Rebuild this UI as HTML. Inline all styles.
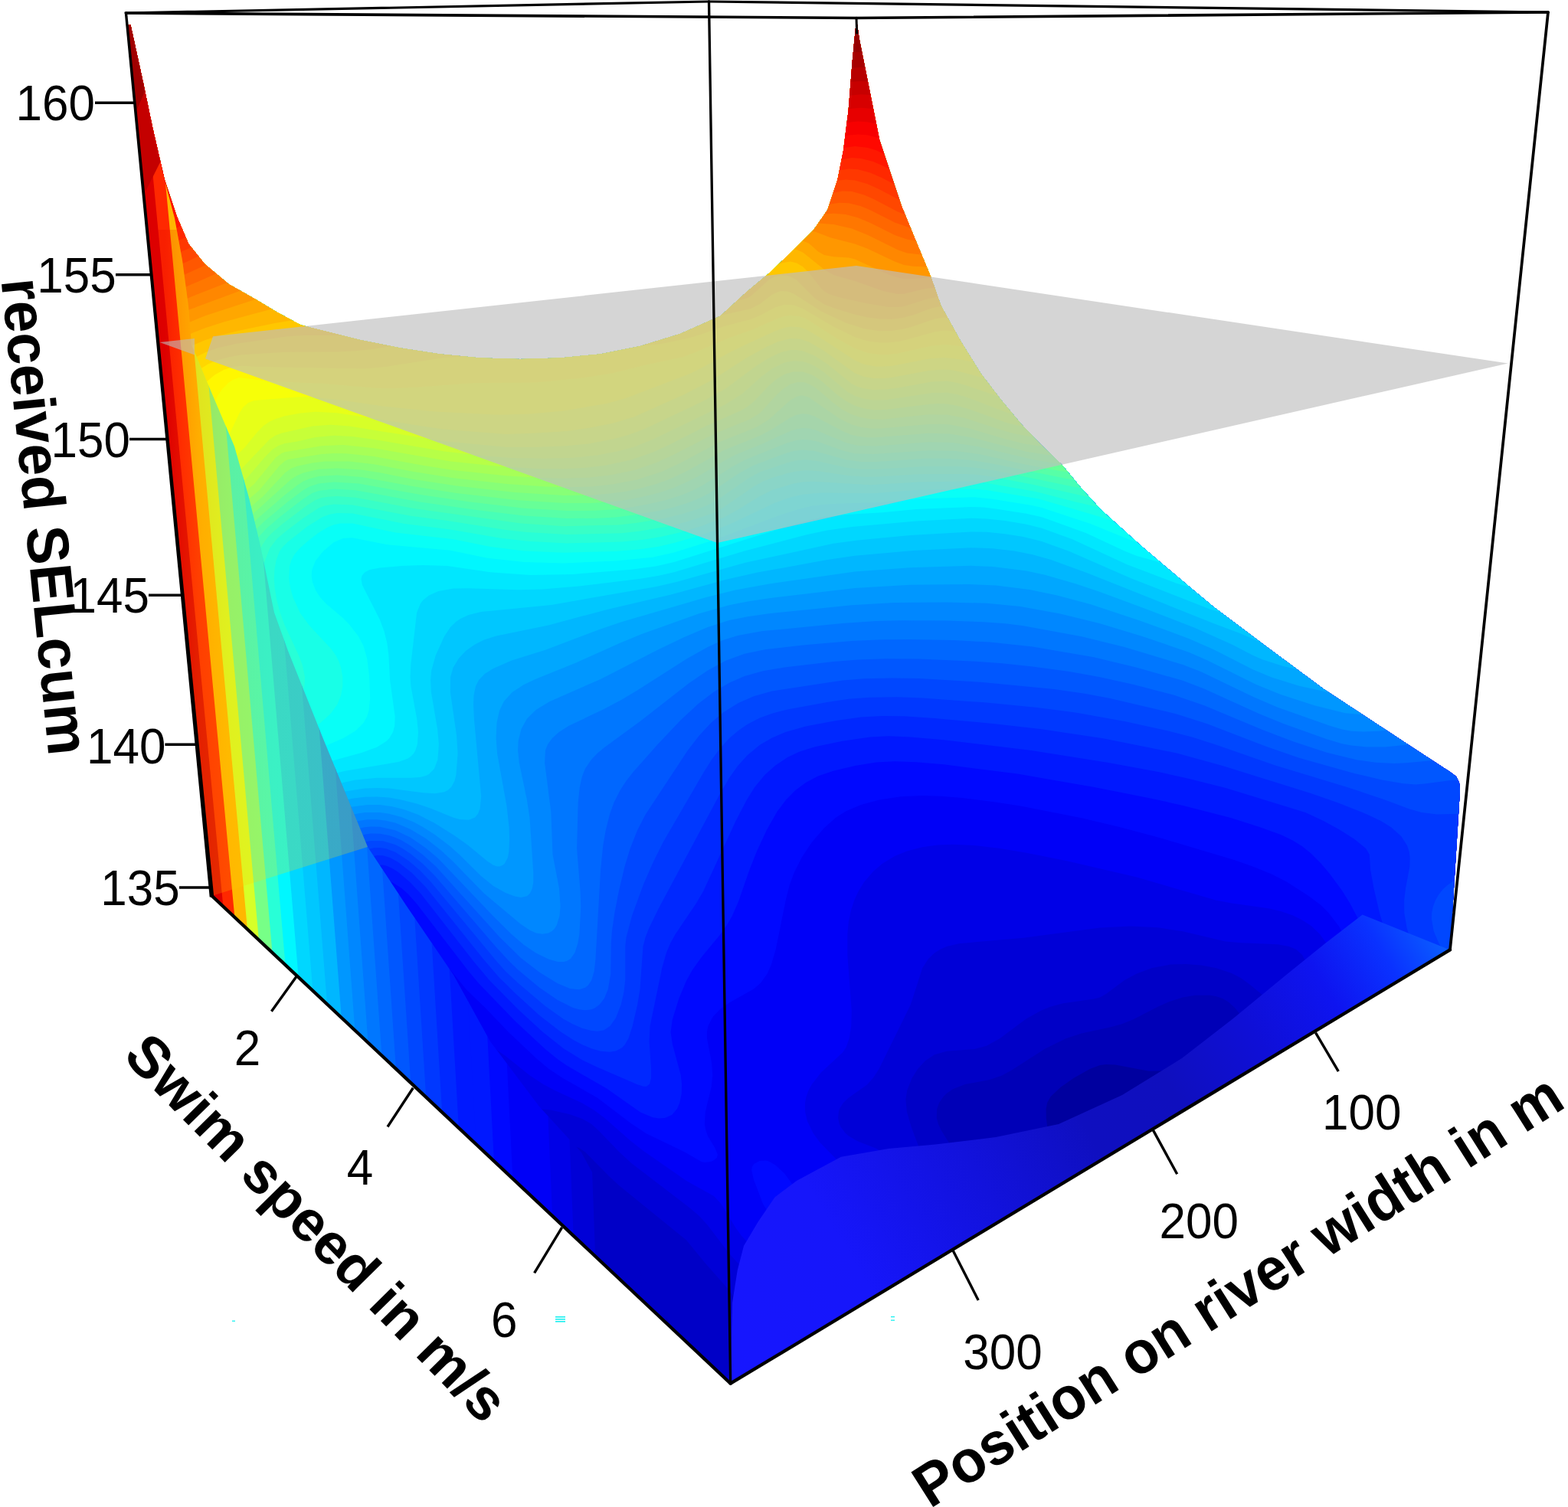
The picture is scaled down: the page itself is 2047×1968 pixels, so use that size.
<!DOCTYPE html>
<html lang="en"><head><meta charset="utf-8"><title>Received SELcum surface</title>
<style>html,body{margin:0;padding:0;background:#fff}body{width:2047px;height:1968px;overflow:hidden}svg{display:block}text{font-family:"Liberation Sans",sans-serif;fill:#000}.tk{font-size:62px}.ax{font-weight:bold;font-size:75px}</style></head><body>
<svg width="2047" height="1968" viewBox="0 0 2047 1968">
<defs><clipPath id="sil"><path d="M170.5,32.7 186.2,104.5 199.3,167.2 214.9,235.1 230.6,282.1 246.3,318.7 267.2,344.8 298.5,371 335.1,391.8 361.2,407.5 392.6,424.5 470,444 522.5,454.5 574.7,462.4 627,467.6 679,469 731.5,467.6 783.7,462.4 836,452 888,436 940.4,412.7 975,381 1004.5,356.6 1035.8,326.5 1062,300.4 1080.3,274.3 1093.3,235.1 1101.1,196 1107.7,143.7 1112.9,78.4 1118.1,24.8 1122,52.2 1129.9,91.4 1137.7,130.6 1148.2,182.9 1161.2,222 1176.9,269 1195.2,313.5 1214.8,360.5 1228.4,399.3 1254.5,446.3 1280.6,488.1 1306.7,522 1332.9,553.4 1359,580.8 1386.4,607 1411.2,637 1437.4,665.7 1463.5,689.2 1489.6,712.7 1515.7,735 1541.8,757.1 1583.6,791.9 1650,842 1728.3,900 1780,934 1850,980 1893,1008 1901,1014 1905,1022 1906,1032 1893,1240.4 953.7,1806.7 276.7,1170 166.5,33Z"/></clipPath><linearGradient id="cg" gradientUnits="userSpaceOnUse" x1="953.7" y1="1806.7" x2="1893.0" y2="1240.4"><stop offset="0" stop-color="#1616ff"/><stop offset="0.2" stop-color="#1616fa"/><stop offset="0.38" stop-color="#1212dc"/><stop offset="0.52" stop-color="#0f0fc0"/><stop offset="0.63" stop-color="#0f0fbe"/><stop offset="0.75" stop-color="#0f0fd7"/><stop offset="0.85" stop-color="#0e14f0"/><stop offset="0.93" stop-color="#0a32ff"/><stop offset="1" stop-color="#0a5fff"/></linearGradient><linearGradient id="bw" gradientUnits="userSpaceOnUse" x1="215" y1="0" x2="420" y2="0"><stop offset="0" stop-color="#e10000"/><stop offset="0.1" stop-color="#ff3c00"/><stop offset="0.22" stop-color="#ff8c00"/><stop offset="0.4" stop-color="#ffbe00"/><stop offset="0.7" stop-color="#ffdc00"/><stop offset="1" stop-color="#fae60a"/></linearGradient><clipPath id="cz"><polygon points="170.5,32.7 186.2,104.5 199.3,167.2 214.9,235.1 228.0,285.0 238.0,340.0 246.0,400.0 250.0,450.0 275.0,510.0 306.0,583.0 325.0,650.0 340.0,713.0 358.0,800.0 376.0,850.0 422.0,965.0 480.0,1106.0 530.0,1182.0 592.0,1273.0 640.0,1360.0 704.0,1445.0 759.0,1505.0 789.0,1560.0 820.0,1635.0 852.0,1690.0 880.0,1738.0 953.7,1809.7 273.7,1173.0 161.4,17.0"/></clipPath></defs>
<rect width="2047" height="1968" fill="#fff"/>
<g clip-path="url(#sil)"><rect width="2047" height="1968" fill="#00009f"/>
<path fill="#0000b7" d="M-8,-8 2056,-8 2056,1976 -8,1976ZM1436,1390.9 1422.7,1396 1401.5,1408 1384.4,1420 1371.7,1432 1367.2,1440 1365.6,1448 1365.8,1460 1367.3,1472 1371.8,1488 1378.2,1500 1388,1511.2 1399.8,1520 1412,1526.1 1428,1530.9 1444,1532.5 1460,1531.1 1480,1525.3 1496,1517.1 1513.2,1504 1527.7,1488 1538.1,1472 1547,1452 1551.6,1432 1552,1424 1551.2,1416 1548.4,1408 1545.3,1404 1540,1400.4 1536,1399.1 1528,1398.3 1500,1398.7 1456,1390.5 1444,1389.9Z"/>
<path fill="#0000c7" d="M-8,-8 2056,-8 2056,1976 -8,1976ZM1560,1299.7 1544,1302.5 1526.7,1308 1512,1314.5 1480,1331 1464,1337.4 1448,1341.8 1412,1349.6 1392,1356.1 1364,1369.8 1320,1398.1 1308,1404.6 1292,1410 1260,1416.1 1244,1422.2 1236,1427.8 1231.7,1432 1226.2,1440 1223.2,1448 1222.8,1460 1225,1468 1228.7,1476 1240,1494.2 1256,1514.8 1276,1536.9 1296,1556.9 1316,1575.2 1336,1591.1 1355.3,1604 1372,1613.1 1388,1620 1408,1626.2 1428,1629.7 1444,1630.6 1464,1629.2 1480,1626 1498.4,1620 1516,1611.8 1540,1596.2 1559,1580 1577.7,1560 1596,1536 1613.3,1508 1628,1477.9 1638.8,1448 1644.1,1424 1645.9,1400 1643.4,1376 1640.3,1364 1635.8,1352 1624.8,1332 1612,1316 1604,1308.8 1596.2,1304 1588,1301.2 1580,1299.8Z"/>
<path fill="#0000d7" d="M-8,-8 2056,-8 2056,1976 -8,1976ZM736,1499.4 732,1503.5 729.9,1508 728.4,1520 730.9,1536 737.3,1556 752,1590 790.2,1668 816,1726.8 825.2,1744 836,1760 850.1,1776 864,1787.8 880,1797.4 896,1803.4 912,1806.1 928,1805.3 944,1800.6 956,1793.4 965.1,1784 971.7,1772 975,1760 975.8,1744 973.3,1728 967.9,1712 962,1700 952,1685 919.3,1648 896,1619.4 808,1547.9 795,1536 764,1504.4 756,1499 748,1496.5 740,1497.3ZM1528,1259.6 1504.3,1264 1484,1271.4 1468,1280.1 1444,1298 1436,1302.5 1428,1304.5 1388,1310.3 1372,1314.6 1360,1319.3 1340,1330.3 1305.5,1356 1288,1365.8 1272,1370 1236,1372.7 1220,1377.2 1208,1385.2 1198.1,1396 1190.5,1408 1184.2,1424 1182.4,1436 1183.9,1452 1189.8,1472 1201.8,1504 1212,1525.7 1224,1547.2 1240,1572.5 1260,1600.8 1276,1621.2 1292,1639.6 1308,1655.8 1324,1669.5 1340,1681.2 1360,1693.3 1380,1702.8 1400,1709.9 1424,1715.1 1444,1716.7 1464,1715.8 1484,1712.3 1504,1706.2 1524,1697.1 1544,1685.1 1564,1669.6 1584,1650.5 1600,1632.2 1616,1611 1633.4,1584 1649,1556 1664,1524.6 1675.5,1496 1684.6,1468 1690.4,1444 1693.6,1424 1694.6,1408 1693.9,1388 1690.9,1368 1685.1,1348 1677.7,1332 1669.7,1320 1658.6,1308 1632,1285.9 1620,1277.2 1608,1270.9 1588,1264.3 1568,1260.5 1548,1258.9Z"/>
<path fill="#0000e7" d="M-8,-8 2056,-8 2056,1976 -8,1976ZM700,1447.8 692,1448.9 684,1452.9 678.8,1460 676.4,1468 675.7,1480 676.6,1492 679.5,1508 684,1525.1 692,1549.9 704,1581.5 734.1,1652 764,1725.4 782.6,1764 792,1780.1 802.7,1796 824,1821.7 836,1833.3 848,1843.2 872,1858.6 896,1868.5 908,1871.6 924,1873.9 936,1874.1 948,1873.1 960,1870.8 972,1867.2 984,1861.8 992,1856.9 1006.3,1844 1017.1,1828 1024.8,1808 1027.3,1796 1028.5,1784 1027.9,1760 1023.9,1740 1020,1728 1014.6,1716 1002.7,1696 987,1676 952,1636.9 924,1600.2 912.9,1588 900,1577 824,1518.8 808,1504.1 781.1,1476 772.2,1468 760,1460.9 744,1455.2 720,1449.7ZM1436,1211.6 1336,1224.8 1252,1232.2 1236,1236.1 1228,1239.6 1220,1244.6 1212,1252.1 1204.3,1264 1188.8,1312 1147.5,1396 1140,1407.4 1132,1416.4 1108,1433.4 1101,1440 1096,1448.1 1094.8,1452 1094.1,1460 1095.8,1468 1097.7,1472 1103.9,1480 1108,1483.5 1120,1490.6 1144.5,1500 1150.1,1504 1156,1510.6 1168,1532.1 1212,1624.1 1233.8,1664 1248,1686.5 1264,1708.9 1280,1728.5 1296,1745.6 1312,1760.6 1332,1776.5 1348,1787.2 1368,1798.1 1388,1806.5 1408,1812.3 1428,1815.7 1448,1816.7 1472,1814.6 1496,1808.9 1520,1799.4 1544,1785.7 1568,1767.5 1588,1748.5 1608,1725.5 1628,1698.1 1651.3,1660 1671.8,1620 1692,1573.9 1707.7,1532 1720.2,1492 1728.7,1456 1733.4,1424 1734.5,1392 1733.3,1372 1730.7,1352 1726.7,1332 1720,1305.7 1710.3,1272 1704.8,1256 1700,1247.1 1692,1239.7 1682.8,1236 1668,1233.3 1620,1231.3 1600,1229.4 1544,1216.3 1512,1211.3 1476,1209.4Z"/>
<path fill="#0000f7" d="M-8,-8 2056,-8 2056,1976 1463.8,1976 1492,1966.1 1520,1950.9 1548,1930.2 1576,1903.2 1604,1869.4 1628,1834 1652,1791.7 1672,1750.3 1697.6,1688 1724,1612.4 1746.9,1536 1761.3,1476 1768.1,1432 1770,1408 1770.3,1388 1767.8,1352 1764.5,1332 1759.9,1312 1744.3,1260 1737.9,1244 1731.7,1232 1723.1,1220 1712,1209.3 1700,1201.4 1688,1195.6 1672,1190.1 1656,1186.2 1608,1179.6 1588,1175.8 1484,1145.5 1391.5,1124 1340,1113.7 1304,1107.7 1272,1104 1244,1102.8 1224,1103.5 1204,1106.2 1184,1111.4 1168,1118 1152,1127.7 1140,1137.9 1128,1152 1120.6,1164 1115.1,1176 1111.2,1188 1107.8,1204 1106.3,1220 1106.4,1248 1111.8,1320 1111.2,1340 1108.7,1356 1104.4,1368 1100,1374.5 1072,1400.6 1059.9,1416 1055.5,1424 1052.6,1432 1051,1440 1051.1,1452 1053.9,1464 1061.7,1480 1070.5,1492 1093.9,1516 1107,1532 1119.9,1552 1129.4,1572 1137.9,1596 1144.2,1620 1148.9,1644 1158.5,1704 1166.2,1736 1177.9,1772 1193.6,1816 1204,1840 1215.1,1860 1229.2,1880 1244,1897.2 1263.5,1916 1284,1932.4 1304,1945.9 1328,1959.1 1352,1969.3 1373.9,1976 -8,1976ZM620,1358.3 616,1362.4 615,1372 617.1,1388 623.6,1416 645.5,1496 680,1598.3 724.3,1720 744,1768 756,1792.6 769.1,1816 784,1838.8 800,1859.9 816,1878 832,1893.9 848,1907.7 868,1922.5 888,1935.1 908,1945.5 928,1954.1 948,1960.9 968,1965.8 988,1968.9 1008,1970 1028,1968.9 1048,1965.2 1063.8,1960 1080,1952.1 1092,1943.9 1101,1936 1108.3,1928 1114.2,1920 1120.9,1908 1125.6,1896 1128.5,1884 1129.8,1872 1129.5,1860 1125.3,1836 1106.9,1784 1098.2,1744 1089.2,1724 1077.8,1708 1066.8,1696 1049.1,1680 992,1636.5 976,1622.5 968,1613.8 960.8,1604 941.3,1572 932,1562 896,1542 840,1502.9 824,1490.6 789.3,1460 776,1449.9 760,1440.6 724.3,1424 709.3,1416 691.1,1404 660,1379.1 644,1367.9 628,1359.2 624,1358.1Z"/>
<path fill="#0008ff" d="M-8,-8 2056,-8 2056,1976 1692.7,1976 1700.1,1928 1712.6,1864 1790.7,1504 1798.8,1456 1803.1,1412 1803.7,1384 1802.3,1360 1798.5,1336 1793.2,1316 1778.7,1276 1760.3,1232 1748,1209.7 1734.4,1192 1724,1181.8 1708,1169.7 1680,1151.8 1660,1141.6 1636,1131.7 1612,1123.2 1512,1093.4 1461.4,1080 1412,1068.2 1332,1052.5 1296,1046.9 1256,1042 1228,1039.7 1204,1039 1176,1040.3 1148,1044.6 1124,1050.9 1104,1059.6 1090.8,1068 1076,1081.2 1059.8,1100 1046.5,1120 1036.5,1140 1030.7,1156 1025.7,1176 1012.7,1240 1006.8,1260 1001.5,1272 992.7,1284 984,1291.5 952,1309.5 940,1317.9 930.5,1328 924.4,1340 922.9,1348 923,1356 929.1,1388 930.3,1404 928.6,1420 920.8,1452 919.9,1468 921.4,1476 924,1483.4 933.9,1500 936.9,1508 935.8,1512 930.8,1516 928,1516.9 920,1518 916,1517.3 892,1503.4 844,1480.5 824,1467.3 780,1433.7 734.8,1408 716,1395.4 700,1382 664,1347.9 633.4,1316 608.5,1292 573,1248 552,1219.8 532,1198.3 524,1191.8 516,1189.2 512,1190.6 508.6,1196 507.6,1204 508.2,1212 513.5,1232 524,1257.4 559.1,1332 577.1,1376 593.8,1420 638.6,1548 696,1729.4 708,1762.9 720,1792.7 732,1819 744,1842.4 756.4,1864 772,1888.4 788,1910.7 808,1935.5 828,1957.8 845.9,1976 -8,1976ZM991.7,1516 1000,1515.6 1004,1516.7 1012,1521.2 1024,1532.3 1035.5,1548 1041,1560 1042.9,1572 1042.5,1576 1040,1582.4 1034.1,1588 1024,1590.4 1012,1588.1 1004,1583 1000,1578.6 996,1572.3 983.8,1540 981.2,1528 981.8,1524 984.3,1520Z"/>
<path fill="#0018ff" d="M-8,-8 2056,-8 2056,1976 1815.8,1976 1805.2,1932 1797.8,1880 1794.5,1824 1794.6,1764 1797.7,1704 1803.9,1640 1811.1,1588 1827.5,1488 1833.1,1444 1835.9,1396 1835.6,1376 1834.1,1356 1830.7,1336 1824.6,1316 1795.1,1252 1772,1198 1762.5,1180 1752,1163.1 1736,1141.3 1724,1127 1712,1115 1700,1105.3 1688,1097.7 1672,1090.1 1644.2,1080 1606.6,1068 1544.4,1052 1504,1042.9 1428.5,1028 1328,1010.6 1232,998.3 1196,995.3 1168,994.2 1144,995.6 1116.3,1000 1088,1006.7 1068,1013.5 1052,1021.9 1038.5,1032 1026.5,1044 1014.5,1060 1000.9,1084 988,1111.8 978.4,1136 964,1177.6 955.9,1196 949,1208 940.6,1220 916,1249.7 904,1266.5 896,1280.9 886.3,1304 877.7,1332 875.6,1348 878,1364 888.8,1404 890.1,1416 889.8,1428 887.4,1440 884,1448 877.1,1456 868,1460.1 860,1460.6 852,1459.2 836,1452.4 792,1421.6 740,1391.6 728,1383.2 712,1370.3 672,1332.9 624.8,1284 611.4,1268 544,1180.2 533.2,1168 524,1159.8 512,1152.2 504,1149.8 500,1149.8 496,1150.9 492,1153.3 488,1157.5 484,1164.7 481.1,1176 480.7,1192 483,1208 488,1226.1 500,1256.2 530.7,1320 546.7,1356 565.9,1404 582,1448 617.9,1552 664,1717.3 676,1756.4 689.7,1796 709.1,1844 732,1891 756,1932.9 784.4,1976 -8,1976Z"/>
<path fill="#0028ff" d="M-8,-8 2056,-8 2056,1976 1942.7,1976 1921.6,1948 1902.5,1916 1885.8,1880 1872.9,1844 1862.1,1804 1853.8,1760 1848.5,1716 1846.1,1668 1846.4,1632 1848.9,1592 1862.8,1480 1866.7,1436 1867.8,1392 1865.5,1356 1862.1,1336 1856.1,1316 1848.6,1300 1820.3,1248 1809.1,1220 1800.9,1192 1793.5,1160 1789.1,1136 1787.8,1116 1783.1,1108 1768.4,1096 1749.5,1084 1727.8,1072 1704,1061 1600,1029.1 1548,1015.9 1512,1008 1447,996 1346.3,980 1232,966.3 1188,962.5 1160,961.2 1136,962.6 1100,967.8 1064,975.3 1044,981.5 1028,989.1 1011.8,1000 998.4,1012 985.2,1028 975.2,1044 960.6,1072 918.1,1164 908.7,1180 881.7,1220 875.1,1232 870,1244 864.3,1264 848.6,1340 847.6,1360 850.1,1396 850.1,1408 848,1415.8 844,1418.7 840,1418.7 832,1416.3 780,1393.8 760,1384.2 736,1369.5 708,1347.3 676,1317.8 638.8,1280 618.7,1256 550.1,1168 536,1152.7 520,1139.1 512,1133.9 504,1130.4 500,1129.5 492,1130.2 487.4,1132 480,1137.2 474.2,1144 469.8,1152 465.3,1168 464.3,1184 466.6,1204 472.8,1228 484,1257 515.3,1324 530.9,1360 549.3,1408 567.3,1460 598.1,1556 644,1738.5 657.1,1784 672,1829.3 685.1,1864 700.3,1900 717.2,1936 738,1976 -8,1976Z"/>
<path fill="#0038ff" d="M-8,-8 2056,-8 2056,1923.4 2032,1908 2007.2,1888 1984,1864.9 1963.8,1840 1944,1809.7 1928,1779.2 1915,1748 1903.4,1712 1896.8,1684 1892.7,1660 1890.1,1636 1888.8,1608 1890.3,1568 1898.7,1488 1901.2,1452 1901.6,1404 1898.9,1364 1893.7,1336 1885.7,1312 1876.1,1292 1848,1242.7 1841.6,1228 1836.6,1212 1833.3,1192 1833.1,1176 1835,1160 1840.3,1132 1840.7,1120 1839.6,1112 1836.9,1104 1829.2,1092 1816,1080.2 1802.6,1072 1784,1063.2 1745.7,1048 1711.2,1036 1595.9,1000 1536,983.5 1440,964.2 1360,952.3 1296,945 1220,937.9 1180,935.2 1152,934.9 1124,936.5 1092,940.9 1052,948.6 1025.6,956 1008,963.4 992,972.8 976,985.9 963.3,1000 952,1016 940.3,1036 860,1186.1 847.3,1212 842.6,1224 839.5,1236 835.5,1292 832.2,1312 825.7,1340 820.5,1356 816,1364 812,1368.3 804,1372.5 796,1373.8 784,1372.7 772,1369.3 760,1364.2 748,1357.8 732,1347.5 704,1325.7 672,1296.5 651.2,1276 630.6,1252 556,1158.8 537.8,1140 520,1125.9 509.2,1120 500,1117.3 492,1117.1 484,1119 476,1122.9 469.6,1128 462.8,1136 458.3,1144 453.1,1160 451.3,1180 453,1200 458.4,1224 471.5,1260 500.7,1324 514.2,1356 529.2,1396 545.3,1444 567,1516 580.2,1564 617.8,1732 638.5,1812 650.8,1852 664.6,1892 680,1932 698.7,1976 -8,1976Z"/>
<path fill="#0047ff" d="M-8,-8 2056,-8 2056,1075.9 2043.8,1072 2025.2,1068 1988,1063.6 1936,1062.2 1876,1063.5 1856,1061 1840,1056.4 1806.6,1044 1758.7,1028 1664,999.3 1588,972.7 1556,962.6 1524,954.3 1468,942 1404,930.4 1353.9,924 1288,917.6 1204,911.4 1172,910.2 1136,910.7 1108,912.8 1080,916.9 1028,926.5 1008,931.7 992,937.6 976,945.8 964,953.9 952.3,964 941.2,976 929.1,992 919,1008 865.6,1100 852,1127.5 840,1155.1 825,1196 817.6,1224 816.3,1236 816.3,1280 814.4,1296 810.7,1312 804,1329.2 796.4,1340 788,1345.5 780,1346.8 772,1346.1 760,1342.7 748,1337.5 736,1330.9 712,1314.1 676,1283.5 660,1268.4 648,1255 562.7,1152 548,1136.6 533.3,1124 516,1112.8 504,1108.3 496,1107.1 488,1107.2 476,1110.3 465.7,1116 457,1124 448.9,1136 444,1148 441.2,1160 439.8,1176 440.5,1192 443.7,1212 449,1232 457.6,1256 489.3,1328 503.6,1364 517.4,1404 531,1448 549.4,1516 562.1,1568 596,1738.9 613.6,1816 636,1895.6 663.6,1976 -8,1976ZM1904.3,1148 1920,1145.2 1936,1146.2 1952,1149.8 1996,1163.9 2016,1169.2 2036,1172.6 2056,1173.7 2056,1784.7 2036,1771.6 2016,1755.4 2000,1739.6 1984,1720.7 1968,1697.4 1956,1675.4 1946.2,1652 1940,1631.2 1935.9,1608 1934.9,1580 1936.2,1560 1942.9,1500 1944.2,1460 1939.6,1384 1935.9,1352 1930.4,1328 1921.5,1304 1908.7,1280 1878.5,1232 1871.7,1216 1868.9,1200 1869.2,1192 1870.8,1184 1873.8,1176 1878.4,1168 1884,1161 1889.5,1156 1896,1151.6Z"/>
<path fill="#0057ff" d="M-8,-8 2056,-8 2056,1035.8 2036,1031.2 2008,1026.5 1948,1020.4 1896,1018.8 1860,1023.6 1848,1024.4 1832,1023.2 1804,1018.4 1768,1010 1696,989.7 1652,974.5 1576,945.2 1536,932.4 1448,911.7 1416,905.8 1376,900 1280,890.7 1200,886.1 1164,885.5 1128,886.3 1100,888.4 1008,902.5 984,909.2 964,918 944,930.4 928.2,944 913.3,960 897.8,980 842.5,1064 832,1084.4 822.7,1108 815.4,1132 808,1163.3 802.4,1192 798.9,1216 797.8,1232 797.2,1272 793.8,1292 788.8,1304 782.6,1312 776,1316.7 772,1318.2 764,1319.2 756,1318.2 748,1316 728,1306.1 704,1289.4 676,1266.2 664,1254.6 648,1237.2 568,1144 552,1128 536,1115.1 525.4,1108 516,1103.1 500,1098.3 484,1098 476,1099.6 468,1102.5 458.5,1108 448,1117.6 440.7,1128 435.2,1140 430.9,1156 429.2,1172 429.5,1188 432.1,1208 438,1232 446.3,1256 478.7,1332 490.9,1364 503.8,1404 517.2,1452 532.6,1516 544.5,1572 573.8,1740 588.7,1816 608,1896.1 631.2,1976 -8,1976Z"/>
<path fill="#0067ff" d="M-8,-8 2056,-8 2056,1005.4 1997.7,996 1940,991.1 1896,990.8 1836,996.2 1820,996.9 1796,995.7 1772,992.4 1732,982.7 1688,968.3 1648,953.1 1572,921.2 1532,907.5 1480,894.1 1436,884.2 1396,877.1 1348,870.4 1308,866.2 1268,863.4 1200,860.6 1156,860.3 1120,861.5 1088,864 1024,871.6 996,876.2 972,883 952,891.7 932,903.6 912,918.8 889,940 858.7,972 826.8,1008 817.4,1020 809.6,1032 801.5,1048 796,1063.3 790.8,1084 787.3,1104 784.1,1136 777.5,1252 775.8,1268 772.3,1280 768,1286.6 764,1289.8 756,1292.2 744,1290.9 728,1284.3 704,1269.6 680,1251.1 652,1223.5 569.5,1132 552,1116.2 536,1104.4 524,1097.3 516,1093.7 508,1091 496,1088.8 484,1088.6 476,1089.7 460,1095.2 448,1103 438.9,1112 430.8,1124 425.5,1136 421.2,1152 419.2,1168 419.2,1184 421.3,1204 426.5,1228 434,1252 443.3,1276 467.2,1332 478.9,1364 490.8,1404 502.9,1452 515.7,1512 526.8,1572 552.7,1744 565.6,1820 581.2,1896 600.9,1976 -8,1976Z"/>
<path fill="#0077ff" d="M-8,-8 2056,-8 2056,978.3 1988,969.1 1936,965.9 1888,967.4 1808,975.4 1784,975.5 1764,973.6 1752,971.2 1732,965.2 1676,945.3 1643.5,932 1572,899.6 1544,888.8 1484,871.7 1428,858.3 1348,844.5 1292,838.5 1244,836.1 1188,834.9 1152,835.2 1112,837.1 1048,842.6 1000,848.1 972,853.8 948,862.6 924,875.6 899.7,892 836,941.8 789.2,976 779.6,984 772,991.9 764,1003.8 760,1013.7 756.8,1028 754.7,1048 753.1,1108 757.6,1164 758.3,1184 756.4,1220 754.3,1232 750.5,1244 745,1252 740,1255.1 736,1256.1 728,1255.9 716,1252.5 700,1244.7 684,1233.9 668,1220.2 644,1196.5 572,1121 556,1107.4 536,1093.7 516,1084.3 496,1079.7 484,1079.4 476,1080.2 464,1083 456,1086.1 444,1093.1 432.2,1104 423.5,1116 417.6,1128 412.6,1144 410,1160 409.3,1180 410.9,1200 415.5,1224 423.7,1252 432.7,1276 456.1,1332 467.3,1364 477.3,1400 488.2,1448 499.4,1508 509.6,1572 532,1748.4 542.9,1824 556,1899.2 571.9,1976 -8,1976Z"/>
<path fill="#0087ff" d="M-8,-8 2056,-8 2056,952.3 1984,943.9 1936,942 1892,944.4 1800,954.8 1780,955.6 1764,954.8 1752,952.4 1736,947.7 1668,923.8 1636,909.9 1568,877.3 1544.2,868 1468,845 1412,831.3 1336,817.3 1312,814.3 1284,812.3 1236,810.5 1176,810.3 1144,811.1 1100,814 996,824.1 964,829.8 943.6,836 924,845 897.1,860 832,901.6 812,913.4 788,926.2 742.3,948 729.8,956 720.9,964 715.1,972 712,979.8 711.1,996 719.3,1060 721.5,1116 730,1160 731.6,1184 730.5,1196 726.9,1208 724,1212.7 720.6,1216 716,1218.6 708,1219.8 700,1218.4 692,1215 680,1207.1 632,1166.7 590.3,1124 576,1110.7 556,1095.1 536,1082.9 516,1074.6 504,1071.7 492,1070.2 480,1070.3 468,1071.9 456,1075.4 448,1078.9 436,1086.4 424,1097.7 416,1108.7 408.4,1124 403.5,1140 400.7,1156 399.6,1176 400.9,1196 405.7,1224 413.6,1252 423.8,1280 446.8,1336 454.9,1360 464.2,1396 473.2,1440 483.1,1500 492.3,1568 511.9,1756 520.6,1828 531,1900 544.2,1976 -8,1976Z"/>
<path fill="#0097ff" d="M-8,-8 2056,-8 2056,925.8 1988,918.8 1944,917.6 1900,920.4 1796,932.5 1776,933.1 1756,931.2 1716,921.3 1672,907.1 1640,893.9 1576,862.2 1552,851.8 1492,831.2 1436,814.3 1384,801.6 1332,792.1 1288,787.8 1236,786.5 1168,787.1 1112,790.3 1004,801.2 976,805.2 952,810.1 924,819 893.4,832 859.9,848 784,886.9 717.8,916 700,926.8 688,938.6 680.5,952 676.6,968 676.1,980 677.8,996 687.8,1044 691.5,1068 696.3,1140 696.3,1152 694.9,1160 692,1166.4 688,1170.2 680,1172 672,1170.6 660,1166 644,1156.9 628,1144.1 600,1116.2 586.2,1104 568,1090.2 552,1079.9 540,1073.6 524,1067 508,1062.8 496,1061 476,1061 460,1063.8 444,1069.5 428,1079.4 415.2,1092 404.7,1108 397.9,1124 392.8,1144 390.5,1164 390.5,1184 392.4,1204 396.1,1224 401.3,1244 409,1268 434.5,1332 442.7,1356 452.2,1396 461.8,1452 469.3,1508 476.1,1572 491.2,1756 498.1,1828 506.5,1900 517.2,1976 -8,1976Z"/>
<path fill="#00a7ff" d="M-8,-8 2056,-8 2056,896 1996,891.7 1960,891.2 1916,894.1 1836,904.1 1796,908 1768,908.3 1736,904.4 1696,895.8 1660,884.4 1636,874.4 1584,848.1 1552,833.9 1488,810.4 1424,789.3 1380,777.5 1344,769.9 1300,764.4 1264,762.9 1188,763.8 1116,767.9 1004,781.2 976,785.4 952,790.2 912,801.5 837.8,828 808.8,840 752,865.5 700,886.6 684,894.1 668.7,904 657.8,916 652,928 648.5,944 647.6,964 649.1,984 661.4,1052 664.6,1080 665.1,1096 664.4,1112 662.9,1120 658.6,1128 656,1130.1 652,1131.4 648,1131.3 644,1129.8 636,1124.4 611.3,1104 594.5,1092 568,1075.2 546.1,1064 528,1057.3 512,1053.3 496,1051.1 480,1050.9 460,1053.4 444,1058.2 428,1066.4 416,1075.7 405,1088 395.3,1104 388.8,1120 383.7,1140 381.3,1160 381,1180 382.5,1200 386.6,1224 391.5,1244 398.9,1268 425.1,1336 431.7,1356 439.5,1392 447.3,1444 453.6,1500 459.1,1564 471,1760 476.3,1832 482.9,1904 491,1976 -8,1976Z"/>
<path fill="#00b7ff" d="M-8,-8 2056,-8 2056,863.2 2008,860.8 1968,861.8 1932,865.3 1836,877.4 1784,881.7 1744,881 1704,876.3 1676,870.3 1648,861.3 1636,856.1 1608,841.6 1560,820 1496,795.2 1436,773.1 1404,762.3 1364,750.7 1340,745.6 1296,739.9 1268,738.8 1188,741.2 1116,746.5 1004,762.5 960,770.5 922,780 812,812 784,821.5 712,848.8 668,862.6 644,872.9 632.8,880 625.1,888 621,896 618.5,908 618,920 619,940 628.2,1040 626.6,1056 624,1062.8 620,1067.6 612,1070.7 600,1069.9 592,1067.7 563.1,1056 544,1049.6 524,1044.4 508,1041.6 492,1040.4 476,1040.7 460,1042.7 448,1045.5 432,1051.6 420,1058.4 408.1,1068 400,1076.9 392,1088.3 384.1,1104 378.5,1120 374,1140 371.8,1160 371.6,1180 373.2,1200 377.1,1224 382.8,1248 390.1,1272 415.4,1340 420,1354.6 426.8,1388 433.1,1436 438.3,1492 442.7,1560 450.9,1764 454.8,1840 465.2,1976 -8,1976Z"/>
<path fill="#00c7ff" d="M-8,-8 2056,-8 2056,828.8 2020,826.1 1988,827.2 1960,830.6 1880,843.6 1840,847.5 1784,851.4 1732,852.8 1708,851.7 1688,849.5 1668,845.7 1648,839.7 1620,827.6 1584,814 1420,748.4 1372,730.9 1348,724.2 1324,719.6 1296,716.2 1268,715.3 1192,719 1116,725.7 1080,730.9 988,747.8 948,756.8 876,776.6 792.6,796 716,816.4 648,830.5 632,835.6 620,841.4 608,850 598.7,860 591.5,872 588.1,884 587.9,904 596,960 597.6,984 595.4,1012 593.4,1020 589,1028 584.5,1032 580,1034.3 568,1036.3 552,1035.3 508,1029.5 492,1028.9 476,1029.5 448,1033.9 436,1037.4 424,1042.6 412,1049.8 404,1056.1 396,1064.1 386.8,1076 379.9,1088 373.1,1104 368.2,1120 364.9,1136 362.6,1156 362.1,1176 363.3,1196 366.7,1220 372,1244 379.8,1272 403.5,1340 408.3,1356 414.4,1388 419.8,1436 423.3,1484 425.9,1540 432,1816 435.2,1896 439.8,1976 -8,1976Z"/>
<path fill="#00d7ff" d="M-8,-8 2056,-8 2056,794.6 2024,790.3 1996,790.2 1968,793.9 1904,809.2 1876,813.4 1784,815.8 1712,820.2 1692,820.1 1676,818.8 1648,813.6 1580.7,796 1476,755 1396,720 1360,707.1 1336,701.1 1312,697.2 1288,694.8 1268,694.4 1188,699 1120,705.4 1088,709.8 972,735 884,759.8 856,766.3 720,789.9 628,798.9 612,802.9 601,808 595.2,812 588,819 580,830.9 568.7,856 563.1,876 562.1,888 562.9,904 571.1,952 572.9,972 571.4,992 566.9,1004 560,1010.9 556,1012.9 548,1014.9 536,1015.8 492,1015.8 464,1018.6 436,1024.4 424,1028.8 412,1034.9 400,1043.3 392,1050.6 383.9,1060 375.9,1072 369.7,1084 363.5,1100 358.9,1116 355.7,1132 353.3,1152 352.5,1172 353.4,1192 356.4,1216 361.1,1240 368.3,1268 391.3,1340 396.6,1360 402.1,1392 406.2,1436 408.7,1484 410.3,1544 410.6,1816 412.1,1896 414.8,1976 -8,1976Z"/>
<path fill="#00e7ff" d="M-8,-8 2056,-8 2056,762.4 2020,755.5 2004,754.2 1988,754.7 1960,759.3 1896,776.3 1872,779.6 1848,779.2 1792,774.6 1768,773.7 1744,774.8 1700,780.4 1676,782 1644,781.6 1600,778.4 1580,774.8 1536,761.8 1472,737.4 1400,704.3 1360,689.8 1340,684.8 1312,680.1 1288,677.4 1268,676.8 1196,680.4 1112,687.9 1080,692.4 1052,698.6 972,719.6 880,747.2 860,751.8 836,755.8 756,765.6 708,769.6 676,770.3 612,768.2 592,768.6 572.5,772 560,777.5 552,784 549,788 544.1,800 536.3,868 535.6,884 536.4,896 544.4,940 546,956 544.9,972 542.3,980 540,983.9 536.1,988 532,990.7 520,995.1 452,1006.5 432,1011.1 412,1019.1 396,1029.2 388,1036.1 377.3,1048 369.2,1060 364,1069.5 357.8,1084 352.5,1100 345.7,1132 343.5,1152 342.9,1172 343.7,1192 346.6,1216 357.8,1268 378.7,1340 383.6,1360 388.7,1392 392.2,1436 393.9,1484 394.3,1544 389.3,1820 389.9,1976 -8,1976Z"/>
<path fill="#00f7ff" d="M-8,-8 2056,-8 2056,733.8 2016,724 1992,722.1 1968,724.9 1900,741.1 1872,744.3 1856,744.3 1840,743 1772.1,732 1748,730.3 1728,731.7 1684,738.8 1656,741.8 1588,744.5 1556,743.4 1532,739.1 1484,725.9 1468,719.4 1417.6,696 1360,675.3 1340,670.7 1300,664.4 1284,662.5 1268,662 1196,665 1152,669.2 1100,672.2 1072,675.9 1052,680.4 1024,688.5 880,734.1 856,739.6 824,743.8 748,749.9 692,751.1 640,747.3 584,738.9 552,737.9 524,739 496,741.5 482.6,744 476,747.4 472.4,752 471.5,756 472.9,764 496,809.6 501.4,824 505.4,840 507.4,856 509.1,888 515.7,936 515.2,948 513,956 508.3,964 504.4,968 492,975.7 472,983 432,993.9 416,999.6 396,1010.4 379.7,1024 372,1032.6 363.8,1044 356,1058.1 350.1,1072 340.7,1104 336.8,1124 334.2,1144 333.1,1180 336.6,1216 347,1268 365.8,1340 371,1364 375.4,1396 377.9,1436 378.8,1488 378,1548 368,1820 365.2,1976 -8,1976Z"/>
<path fill="#08fff7" d="M-8,-8 2056,-8 2056,708.8 2016,697.9 2004,695.8 1992,695.1 1972,697.2 1908,712.1 1876,715.6 1856,715.3 1836,713.3 1768,699.9 1744,697.4 1728,698.5 1688,705.6 1664,708.3 1644,708.7 1604,706.4 1584,706.2 1568,707.4 1532,712.5 1508,712.5 1492,710.4 1480,707.1 1423.6,684 1360,662.9 1347,660 1296,651.7 1272,649.3 1196,651.6 1148,655.9 1084,657.9 1060,660.8 1044,664.4 1020,672 932,705.3 880,721.4 852,727.7 804,732.5 736,735.4 684,734.1 636,728.7 588,718.8 504,711.1 460,702.3 448,702.9 436,708 421.8,720 412,732.2 407.3,744 406.7,752 407.9,760 412,770.7 418,780 425.3,788 448,807.2 456,815.4 468,831.1 474.7,844 479.2,860 482.2,884 483.2,912 481.5,928 479,936 474.6,944 464,954.6 448.1,964 416,977.9 396,988.7 384,997.4 376,1004.5 368,1013 360,1023.4 348,1044.3 337.5,1072 329.1,1108 323.7,1148 323,1180 326.2,1216 336,1268 356.5,1360 360.8,1392 363.2,1432 363.4,1488 361.2,1556 344,1865.5 -8,1865.5Z"/>
<path fill="#18ffe7" d="M-8,-8 2056,-8 2056,687.2 2012.1,676 2000,674.2 1988,673.7 1972,675.9 1932,685.5 1908,690 1884,692.4 1864,692.6 1832,689.6 1764,676.4 1740,674 1728,675.1 1684,683.2 1660,685.2 1636,684.7 1580,678.6 1564,678 1552,679.8 1520,688.8 1508,690.5 1496,690.7 1484,689.3 1472,686.5 1428,672.6 1356,651.6 1288,639.9 1268,638.4 1196,640 1140,644.2 1072,643.4 1048,645.8 1032,649.6 1012,656.5 954,684 932,693.1 912,699.9 880,709.1 860,713.7 836,717.3 804,720 736,721.8 684,719.5 640,713.9 592,704.3 516,695.4 460,683.6 444,683.4 436,685.2 428,688.4 415.6,696 400.3,708 391.4,716 384.5,724 380.2,732 378,740 377.3,756 379.1,768 382.5,780 392,800.7 404,816.9 432.9,848 438.5,856 442.5,864 445.2,872 447.3,884 447.3,896 445.2,908 440.4,920 431.7,932 418.4,944 388,966.5 372,980.8 356,999.6 345.6,1016 334.6,1040 327,1064 319.5,1100 313.8,1140 312.4,1176 315,1212 323,1260 341.9,1356 345.9,1388 348,1424 347.9,1476 345,1544 332,1724 330.7,1728 328,1731.7 -8,1731.7Z"/>
<path fill="#28ffd7" d="M-8,-8 2056,-8 2056,668.6 2016,659.7 2000,657.8 1988,657.4 1972,659.3 1932,667.8 1912,671.1 1888,673.3 1868,673.4 1836,670.8 1768,659.5 1740,657.2 1724,658.7 1684,665.4 1660,667.1 1632,666 1580,659.9 1560,659.1 1548,660.7 1512,670.1 1500,671.7 1488,672 1472,670.4 1456,667.3 1404,655.4 1352,641.9 1280,629.4 1264,628.6 1200,629.4 1136,633.2 1060,628.7 1048,629.5 1036,631.5 1008,640.1 992,648 966.2,664 944.6,676 916,687 888,695.2 864,700.7 840,704.7 812,707.6 740,709.5 688,706.8 652,702.6 588,691.5 528,683.9 460,670.5 440,670 429.5,672 420,675.7 400.7,688 375.3,708 368,715.5 365,720 360.5,732 358.4,744 357.9,756 358.7,768 361.3,784 365.7,800 371.5,816 390,856 394.7,868 398.1,884 397.5,896 394.2,908 388.2,920 348,975.3 336.2,996 328,1014.4 320.6,1036 314.6,1060 310.4,1084 303.2,1136 301.4,1172 303.4,1208 309,1248 327.1,1352 330.4,1380 332.3,1412 332.5,1456 330.4,1508 323.1,1604 320,1626.4 -8,1626.4Z"/>
<path fill="#38ffc7" d="M-8,-8 2056,-8 2056,652 2020,645.5 1992,643.8 1972,645.4 1916,654.7 1896,656.4 1876,656.7 1844,654.7 1780,645.8 1752,643.4 1732,643.9 1684,650.4 1660,651.6 1636,650.7 1584,645.4 1564,644.6 1544,646.6 1504,654.9 1480,656.3 1456,654.2 1416,647.9 1348,632.7 1296,622.8 1276,619.9 1260,619.1 1200,619.3 1148,622.6 1128,622.7 1108,621.3 1068,615.2 1052,614.2 1040,615.4 1028,618.1 1008.4,624 996,628.8 984,635.6 942.5,664 932,669.5 920,674 896,681.5 872,687.4 836,693.5 812,696.2 740,698 688,695 660,691.9 584,680 536,673.7 460,659.4 436,658.6 424,660.6 416,663.6 396,676.4 372,694.7 361.3,704 352.2,716 346.1,732 342.8,752 342.8,776 346.5,804 357.8,860 359.1,876 358,892 355.5,904 351.4,916 324,974.5 312,1009.3 302.4,1052 292.9,1124 290.1,1164 291.5,1204 295.7,1240 311.6,1344 316.2,1396 316.4,1456 312,1528.1 308,1530.5 -8,1530.5Z"/>
<path fill="#47ffb7" d="M-8,-8 2056,-8 2056,636.8 2020,631.8 1992,631 1972,632.6 1920,640 1884,641.6 1852,639.9 1788,632.3 1760,630.3 1736,630.7 1688,636.6 1664,637.8 1640,637 1588,632.2 1568,631.5 1544,633.3 1496,641.4 1468,642.4 1436,640.1 1404,636.2 1300,614.8 1272,610.5 1252,609.3 1208,609.1 1144,612.8 1124,612.7 1104,610.4 1068,602.3 1052,600.2 1040,601.3 1028,604.2 992,616.6 976,625.3 936,653.2 924,659.6 912,664.4 888,672 868,676.7 832,682.8 808,685.6 736,687.2 680,683.4 540,663.9 464,649.8 440,648 428,648.7 420,650.1 412,653 400,660.5 369,684 355,696 347.7,704 342.2,712 336.4,724 332.5,736 328.8,756 327.7,776 332.2,852 331,880 325.1,908 304,969.8 292.9,1020 287.7,1056 280.6,1124 276,1190 -8,1190ZM-8,1417.3 -8,1251.1 284,1251.1 284.9,1264 288,1276 297.7,1352 300.4,1392 300.7,1408 300,1417.3Z"/>
<path fill="#57ffa7" d="M-8,-8 2056,-8 2056,622.4 2024,618.9 1996,618.4 1976,619.8 1928,626.1 1892,627.5 1860,626 1796,619.2 1768,617.3 1740,617.8 1692,623.7 1668,625 1640,623.8 1588,619.4 1568,618.8 1544,620.5 1488,628.7 1468,629.7 1444,629.4 1416,627.9 1392,625.1 1292,604.7 1264,600.4 1240,599 1208,598.8 1144,602.9 1124,603 1104,600.2 1064,588.9 1048,587.4 1036,589 1024,592.4 983.1,608 964,618.6 926,644 916,649.3 900,655.9 880,662.2 860,666.9 828,672.6 804,675.4 780,676.7 740,677.1 684,673.5 620,665.7 548,655.4 464,640.3 436,638.5 416,640.9 407.7,644 395.2,652 368,672.9 348,690 338.8,700 333.1,708 326.5,720 321.7,732 316.6,752 313.9,772 312.2,840 309.2,872 304.4,896 289.2,948 284,972.7 277.4,1016 270.9,1084 268,1099 -8,1099Z"/>
<path fill="#67ff97" d="M-8,-8 2056,-8 2056,608.6 2028,606.2 2000,605.8 1976,607.5 1932,613.2 1904,614.2 1868,612.7 1800,605.9 1772,604.3 1740,605.2 1692,611.4 1676,612.4 1652,611.9 1592,607 1568,606.3 1544,607.8 1504,613.9 1480,616.3 1444,617.8 1412,617.5 1392,616.2 1376,613.8 1336,605.9 1280,593.4 1248,589 1212,588.2 1140,593 1116,592.3 1100,588.4 1068,576.8 1056,574.4 1048,574.1 1040,575 1028,578.2 973.9,600 956,609.4 916,634.6 904,640.7 888,647.2 868,653.4 848,658.1 824,662.5 800,665.4 776,666.8 740,667.1 684,663.7 612,655.3 552,646.6 468,631.6 436,629.4 416,631.4 404,635.4 396,640.1 376,654.9 344,681.8 333.7,692 324.2,704 317,716 311.4,728 305,748 301.1,768 295,832 290.5,864 285.5,888 270.4,948 262.3,1004 260,1014.4 -8,1014.4Z"/>
<path fill="#77ff87" d="M-8,-8 2056,-8 2056,595.1 2028,593.3 2000,593.4 1976,595.1 1936,600 1908,601 1876,599.7 1808,593 1776,591.1 1740,592.3 1688,599 1672,599.8 1644,598.8 1588,594.3 1564,593.8 1540,595.3 1500,601 1468,604 1424,606.7 1396,606.8 1380,605.4 1348,600 1276,583.1 1244,578 1212,577.2 1144,582.4 1120,581.9 1104,578 1064,561.2 1056,559.5 1048,559.1 1040,560.2 1032,562.7 996,579.2 960,594 944,602.4 908,624.1 880,637 860,643.6 840,648.5 820,652.4 796,655.4 772,657 736,657.1 676,653.2 596,643.9 540,635.3 472,622.9 440,620.5 416,622.1 404,625.2 396,628.6 388,633.7 372,646.2 337.6,676 325.3,688 315.4,700 305.3,716 296.4,736 290.5,756 273.6,856 256,931.7 252,940.2 -8,940.2Z"/>
<path fill="#87ff77" d="M-8,-8 2056,-8 2056,581.7 2028,580.5 2000,580.8 1936,586.8 1912,587.8 1880,586.6 1812,579.6 1780,577.8 1744,578.8 1688,585.6 1668,586.6 1640,585.7 1584,581.3 1560,580.9 1536,582.2 1488,588.3 1428,594.4 1404,596 1388,596.1 1368,594.2 1340,589.7 1268,571.2 1240,566.4 1212,565.8 1144,571.3 1132,571.2 1120,569.8 1112,567.9 1100,563.1 1064,544 1056,541.1 1048,540.2 1040,541.7 1032,545.3 1008,560.4 992,569 945,588 900,613.5 876,625 856.8,632 836,637.7 816,641.9 796,644.6 772,646.7 736,646.9 672,643 596,634.6 540,625.9 496,617.3 472,613.6 440,611.5 416,612.8 396,617.4 388,620.9 380,626.1 320.5,680 309.4,692 297.9,708 285.6,732 277.5,756 259.7,840 251.1,876 248,885 -8,885Z"/>
<path fill="#97ff67" d="M-8,-8 2056,-8 2056,568.5 2004,568 1932,573.6 1908,574.3 1880,573.1 1812,565.8 1780,564 1744,565.2 1688,571.7 1664,573.2 1636,572.5 1580,568 1552,567.5 1516,570.2 1408,583.5 1392,584.6 1376,584.4 1356,582.6 1336,579.3 1312,573.3 1264,559.2 1240,554.5 1228,553.7 1212,553.9 1148,559.7 1136,559.5 1124,557.9 1112,554.5 1096,546.8 1056,518.9 1048,516.5 1044,516.8 1040,518.1 1032,522.6 1003.6,548 988,557.8 940,576.9 888,604.8 864,615.9 832,626.2 800,632.6 772,635.5 740,636.2 712,635.5 661.7,632 592,624.2 540.1,616 488,606.2 456,602.6 424,602.5 408,604.5 388,608.7 380,611.8 372,617.6 343.6,648 311.3,676 296.7,692 285.4,708 274.6,728 265.3,752 244,834.2 -8,834.5Z"/>
<path fill="#a7ff57" d="M-8,-8 2056,-8 2056,555.2 2004,555.1 1936,559.7 1908,560.5 1880,559.4 1812,551.7 1780,549.9 1748,550.9 1684,557.9 1656,559.5 1632,558.9 1572,553.9 1544,553.5 1520,554.8 1488,558.2 1400,570.8 1384,572.1 1364,572 1344,570 1324,566.2 1308,561.8 1260,546 1236,541.4 1212,541.3 1152,547.7 1136,547.2 1124,545.2 1112,541.2 1100,534.9 1088,526.3 1068,509 1060,503.4 1052,499.8 1048,499 1040,499.2 1032,501.7 1022.1,508 1013.6,516 992,539.5 980,547 932,566.7 880,593.6 856,604.5 828,613.9 796,620.6 768,623.7 736,624.7 704,623.9 660,621.2 592,613.9 552,607.7 488,596.1 452,592.2 436,591.9 420,593 376,600.1 372,602 365,608 338.7,640 301.3,672 289.9,684 280.3,696 267.5,716 257.6,736 248.5,760 240,788.3 236,789.5 -8,789.5Z"/>
<path fill="#b7ff47" d="M-8,-8 2056,-8 2056,541.9 2012,541.9 1932,546.1 1900,546.3 1872,544.5 1808,536.8 1772,535.3 1740,537 1676,544.1 1644,545.3 1624,544.4 1568,539.3 1536,538.6 1508,540.2 1472,544.1 1388,557.3 1368,558.7 1352,558.4 1332,556.2 1316,552.8 1264,533.9 1248,529.5 1236,527.6 1224,527.1 1212,527.9 1156,535.1 1140,535.2 1128,533.5 1116,529.8 1104,523.6 1093.5,516 1072,497.3 1060,489.5 1048,485.5 1036,485.2 1024,488.8 1012.5,496 1003.5,504 984,524.5 976,531 967.6,536 920,557.3 872,581.7 852,590.8 824,600.5 792,607.6 764,610.9 736,612.2 700,611.9 656,609.6 588,602.4 488,585.3 448,581.1 420,582.2 372,590.2 367.5,592 360,597.5 331.9,632 294.5,664 275.6,684 263.4,700 253.4,716 245.1,732 236,753 -8,753.1Z"/>
<path fill="#c7ff38" d="M-8,-8 2056,-8 2056,528.6 2016,528.6 1936,531.9 1904,532.1 1872,529.8 1804,521.4 1772,520.1 1740,522 1676,529.3 1644,530.6 1620,529.4 1560,523.6 1528,522.9 1500,524.6 1464,528.5 1376,542.2 1360,543.4 1344,543.3 1328,541.7 1316,539.2 1260,518.1 1248,514.7 1236,512.7 1216,513.2 1156,522.2 1140,522.4 1128,520.8 1116,517 1106.7,512 1076,486.3 1064,478.3 1056,474.5 1048,472.1 1036,471.2 1024,473.5 1008,481.3 993.8,492 968,515.1 947.2,528 852,574.1 828,583.4 808,589.1 780,594.5 748,597.8 712,598.8 668,598 632,595.2 580,589.5 492,574.5 460,570 436,568.8 412,571 388,576.4 372,578.9 364,581.7 356,586.7 346.7,596 320,627.1 288,654.5 268,674.9 251.1,696 236,720.1 232,725.1 -8,725.1Z"/>
<path fill="#d7ff28" d="M-8,-8 2056,-8 2056,515.1 2012,515.3 1936,517.8 1908,517.6 1872,514.9 1804,505.8 1776,504.3 1744,506.1 1676,514.3 1644,515.5 1616,514 1556,507.3 1528,506.3 1500,507.8 1452,512.8 1364,524.8 1340,525.5 1328,524.4 1316,521.9 1260,502.8 1248,499.5 1236,497.6 1216,498.4 1172,506.5 1156,508.6 1140,508.9 1128,507.3 1120,505.1 1112,501.3 1080,475.2 1064,464.7 1048,458.2 1040,456.9 1032,457.1 1019.5,460 1002.5,468 984.1,480 948,507.1 917.4,524 841.8,560 820.2,568 800,573.5 768,579.4 740,582.3 696,583.9 660,583.7 576,575.8 456,556.4 432,554.8 408,556.4 368,565.4 360,568.6 352,573.7 312,615.7 268,656.5 246.9,680 232,700.1 228,701.5 -8,701.5Z"/>
<path fill="#e7ff18" d="M-8,-8 2056,-8 2056,501.4 1944,503.5 1908,502.9 1872,499.8 1804,489.5 1776,487.8 1748,489.5 1680,498.7 1648,500.4 1612,498.3 1548,489.8 1520,489.2 1452,495.6 1400,499.2 1360,503.7 1340,504.5 1328,503.8 1312,501.3 1256,485.9 1244,483.6 1232,482.6 1212,484 1164,493.1 1152,494.2 1140,494.1 1128,492.1 1116,487.3 1076,458.3 1056,446.6 1044,442.6 1032,442 1016,446 1000,453.3 973.5,468 928,497.2 891.3,516 828,544.2 800,552.7 768,559 740,563 696,565.8 660,566.9 576,560.3 440,539.3 412,537.8 392,539.4 372,543.3 360,546.9 352,550.6 344,556 336.1,564 319.8,584 268,636 228,679.8 -8,679.8Z"/>
<path fill="#f7ff08" d="M-8,-8 2056,-8 2056,487.5 1948,489.2 1908,488.2 1868,483.9 1804,472.6 1780,470.6 1756,471.8 1688,482.6 1652,485.3 1616,483.4 1552,472.7 1532,471 1512,472 1468,477.5 1444,479.4 1324,481.2 1300,478.7 1252,469 1232,466.9 1212,468.6 1164,477.9 1144,478.7 1128,475.7 1116,470.6 1068,439.3 1052,430 1044,427.2 1032,426.6 1024,428.1 1012,432.2 969.2,452 952,460.5 916,480.6 900,488.2 817.1,520 792,526.9 736,536.4 692,540.6 652,541.7 568,537.4 500,530.4 444,522.2 404,518.2 388,518.5 332,523.1 324,526.1 317.2,532 312,540.4 299.2,568 288.7,584 272.8,604 228,656.2 224,657.6 -8,657.6Z"/>
<path fill="#fff700" d="M-8,-8 2056,-8 2056,473.4 1952,474.8 1908,473.4 1872,469.2 1804,455.5 1780,452.9 1768,453.3 1752,455.2 1684,467.9 1652,470.3 1632,469.8 1612,467.7 1592,464.1 1552,454.7 1532,452.4 1516,453.4 1464,461.9 1432,463.7 1408,462.8 1356,458.4 1296,458.6 1280,456.9 1244,450.8 1232,450 1216,451.7 1172,461.4 1160,462.9 1148,463.1 1132,460.8 1116,455 1092,441.7 1052,416.1 1044,413.2 1032,411.9 1024,413 1016,415.5 984,429.8 948,442.7 908,460.1 892,466 840,477.3 800,487.3 760,493.6 700,499.5 620,499.9 544,505.7 504,507.3 484,506.3 420,500.8 352,498 312,493.1 304,495.9 298.1,500 290.2,508 284.6,516 278.8,528 266.4,564 259.1,580 244.6,604 224,632 -8,632Z"/>
<path fill="#ffe700" d="M-8,-8 2056,-8 2056,459.1 1952,460.3 1904,458.2 1868,453.3 1804,438.6 1780,435.3 1768,435.7 1756,437.4 1688,452.4 1668,454.8 1652,455.6 1628,454.8 1604,451.4 1584,446.6 1548,435.7 1532,433.2 1516,435 1488,442.2 1468,446.2 1436,448.6 1404,446.5 1360,437.9 1348,436.4 1336,436.6 1304,440.2 1288,440.2 1268,437.8 1240,431.9 1232,431.6 1220,433.6 1176,445.4 1160,447.5 1148,447.6 1132,445.3 1116,440.2 1088,426.6 1048,403 1036,398.6 1024,397.8 1012,401.4 992,412.1 980,417 944,426.4 916,436.5 900,441.2 864,449 836,452 804,457.4 764,462 708,465.4 628,464.8 580,466.9 504,479 476,481.5 336,479.1 316,477.8 304,479.1 292,483 280,489.8 268,500 260,509.7 249.8,528 229.9,580 224,592 220,597.6 -8,597.6Z"/>
<path fill="#ffd700" d="M-8,-8 2056,-8 2056,444.4 1952,445.4 1904,443.3 1868,438.2 1796,420.8 1776,418.4 1756,420.8 1708,433.2 1684,438.2 1660,440.8 1636,440.9 1616,438.9 1596,435 1576,429 1544,416.8 1532,414.2 1520,415.5 1492,425.6 1476,430.1 1460,432.9 1444,434.2 1420,433.7 1400,431 1384,427.2 1356,417.9 1348,416.2 1336,416.5 1304,423.3 1288,424.5 1272,422.9 1244,415.9 1232,414.5 1220,416.5 1192,426.3 1180,429.5 1164,432 1148,432.3 1128,429.3 1104,421.4 1072,406.5 1036,383.5 1028,380.6 1020,380.1 1016,380.9 1008,384.7 992,397 980,403.3 940,411.9 912,421.8 900,425 856,432.7 796,439.2 736,443.3 704,444.3 616,444 572,445.1 524,449.8 488,455.7 464,458.3 440,459.5 372,459.8 316,463.3 300,465.9 284,470.2 272,475.3 258,484 248,492.4 240,500.8 232.1,512 224.1,528 216,548 -8,548Z"/>
<path fill="#ffc700" d="M-8,-8 2056,-8 2056,429.3 1952,430.3 1900,428 1868,423.4 1800,407.3 1776,403.4 1752,406.6 1700,420.3 1680,424.2 1656,426.6 1632,426.4 1612,424.2 1592,419.9 1576,414.7 1544,401.2 1536,398.7 1528,397.7 1516,400.3 1492,410.9 1480,415 1464,418.6 1444,420.5 1420,420 1396,416.3 1380,411.7 1352,400.2 1344,399 1332,400.6 1300,409.2 1288,410.5 1272,409.3 1240,401.2 1228,400 1216,402.5 1192,411.5 1180,414.8 1164,416.9 1148,416.6 1132,414.4 1116,410.8 1092,403.5 1076,397.4 1064,389.8 1040,365.7 1032,361.2 1027.6,360 1020,359.6 1012,361.1 1004,365.3 980,387.1 976,389.2 936,399.8 904,410.5 880,415.4 808,422.4 760,425.2 708,427 572,427.2 524,430.4 448,437.9 396,438 376,439.2 308,448.9 284,454.5 268.4,460 252,468.2 235.2,480 222.8,492 212,506.5 -8,506.6Z"/>
<path fill="#ffb700" d="M-8,-8 2056,-8 2056,413.8 1952,414.7 1900,413 1868,408.7 1804,395.2 1772,391.5 1760,392 1744,394.4 1696,406.5 1676,410.3 1656,412.1 1632,412.1 1612,410.2 1592,406.4 1576,401.3 1544,388.1 1528,385.5 1520,386.1 1512,388.2 1488,398.7 1476,402.7 1460,405.7 1444,407 1420,406.5 1396,403.2 1380,398.9 1356,389.1 1348,387.2 1340,386.6 1328,387.9 1296,396.3 1284,397.8 1272,396.7 1240,388.7 1224,387.7 1212,389.9 1180,400.2 1172,401.1 1160,400.9 1129.8,396 1094.5,388 1082.2,384 1076,380.4 1072,376.8 1056,356 1048,348.2 1040,343.4 1032,341.6 1020,343.4 1004,350 976,370 956.5,380 904,397.8 884,402.3 792,408.9 712,411.1 572,410.7 448,417.8 400,417.4 384,418.1 360,421.7 312,431.8 288,437.7 268.1,444 252,450.8 236,459.6 224,468 212,478.5 208,480.9 -8,480.9Z"/>
<path fill="#ffa700" d="M-8,-8 2056,-8 2056,397.7 1948,398.5 1896,397.2 1872,394.5 1808,382.9 1764,379.7 1752,380.2 1736,382.2 1676,395.6 1656,397.3 1632,397.3 1612,395.8 1592,392.6 1580,389.4 1548,377 1536,374.4 1528,373.8 1520,374.2 1508,376.7 1480,388 1472,390.1 1460,392 1444,393.2 1420,392.8 1396,390 1380,386.1 1356,377.4 1340,375 1324,376.1 1284,384.4 1272,383.6 1240,376.6 1224,375.3 1208,377 1180,383.8 1172,383.9 1152.7,380 1116,367 1088,359.1 1076,352.1 1048,329.6 1040,326.1 1036,325.6 1028,326.8 1016,331.8 976,356.5 956,366.4 900,386 884,389.7 796,394.4 756,394.4 708,395.7 572,394.7 452,398.7 404,398 384,398.7 368,400.7 352,404.2 292,420.6 268,428.2 252,434.4 236,442 220,451.6 208,460.4 -8,460.7Z"/>
<path fill="#ff9700" d="M-8,-8 2056,-8 2056,380.9 1940,381.7 1896,380.9 1876,379.2 1812,370 1760,367.1 1728,369.6 1672,380.3 1652,381.8 1632,381.9 1612,380.6 1596,378.3 1584,375.6 1552,365.3 1540,362.9 1528,361.9 1507.5,364 1476,373.9 1464,376.7 1448,378.5 1432,378.9 1412,377.8 1396,375.7 1356,365.3 1340,363.2 1324,363.6 1292,368.7 1280,369.6 1268,368.7 1228,362.6 1216,362.3 1192,364 1180,363.9 1172,362.5 1160,358.4 1116,338.6 1108,336.6 1088,335.3 1076,332.9 1068,328.4 1056,317.7 1048,314.4 1040,313.4 1032,314.1 1020,318.1 1008,324.7 980,343.2 956,354 900,371.9 880,376 796,379.1 620,379.3 572,378.4 520,379.7 384,379.7 368,381.5 352,384.9 268,412.3 236,425.4 208,441.2 204,442.6 -8,442.6Z"/>
<path fill="#ff8700" d="M-8,-8 2056,-8 2056,363.4 1904,363.9 1876,362.4 1808,355.8 1756,353.8 1724,355.7 1664,364.3 1632,365.5 1600,362.8 1552,352 1528,349.4 1504,351.4 1460,361.6 1436,363.5 1404,361.7 1360,353.1 1340,350.8 1320,351.2 1288,354.5 1272,354.6 1228,349.2 1192,347.7 1180,345.9 1168,341.6 1132,324.6 1116,318.4 1084,310.2 1064,302.6 1048,301.5 1032,303.5 1018.7,308 1004,316.1 980,333 964,339.8 924,351.4 896,358 880,360.7 856,362.2 800,362.6 572,361.7 484,362.3 400,360.6 380,361.3 360,364.1 340,369.9 248,404.1 224,414.9 204,425.7 -8,425.7Z"/>
<path fill="#ff7700" d="M-8,-8 2056,-8 2056,345.7 1912,346.4 1804,341.2 1752,339.8 1716,341.4 1656,347.5 1628,348.3 1600,346.1 1548,337.6 1524,336.2 1500,338.2 1456,345.9 1428,347.4 1404,345.9 1360,339.4 1340,337.7 1272,339.9 1184,330.4 1172,326.3 1132,306.5 1112,298.6 1088,293.1 1056,290.4 1036,292.6 1016,298.9 1000,307.6 976,323.8 964,328.6 928,337.4 884,344.3 864,345.9 844,346.3 716,344.9 484,344.8 400,342.6 376,343.4 356,346.3 336,352.4 299.4,368 248,388.2 204,408.6 200,409.4 -8,409.4Z"/>
<path fill="#ff6700" d="M-8,-8 2056,-8 2056,328.2 1980,327.9 1916,328.9 1744,325.2 1708,326.2 1652,330.3 1628,330.9 1600,329.3 1548,323.2 1524,322.3 1500,323.7 1452,329.8 1428,330.8 1404,329.7 1344,324 1272,325.1 1228,320.5 1184,312.6 1168,306.9 1136,291.1 1120,284.3 1104,280 1088,278.8 1048,281.4 1028,284.9 1008,292.4 976,311 964,316.4 944,321.5 912,326 876,328.9 852,329.7 796,328.2 484,327.6 400,325.3 372,326.2 352,329 332,335.4 200,393.4 -8,393.4Z"/>
<path fill="#ff5700" d="M-8,-8 2056,-8 2056,311.1 1916,311.6 1732,309.9 1628,313.5 1604,312.7 1548,308.3 1524,307.7 1500,308.7 1452,313.1 1428,313.9 1344,309.3 1268,309.7 1228,305.6 1188,297.6 1168,290.5 1136,274.3 1124,269.3 1108,265.2 1096,264.7 1084,266.5 1068,270.8 1044,272.3 1028,275.1 1008,281.9 972,299.9 960,304.6 940,309 916,311.3 856,313 784,311.3 480,310.7 400,308.6 368,309.7 348,312.8 325.6,320 200,377.3 -8,377.5Z"/>
<path fill="#ff4700" d="M-8,-8 2056,-8 2056,294.3 1724,294 1624,296.2 1524,292.5 1428,296.8 1344,293.9 1264,293.9 1228,290.6 1192,283.9 1172,276.6 1140.6,260 1128,254.4 1112,250.1 1100,249.5 1088,251.8 1064,259.7 1040,262.8 1024,266 1008,271.1 980,283.6 964,289.7 948,293.6 928,295.9 864,296.2 764,294.4 480,294.1 396,292 364,293.4 340,297.8 320,304.5 244,341.8 200,360.9 196,361.7 -8,361.7Z"/>
<path fill="#ff3800" d="M-8,-8 2056,-8 2056,277.6 1720,277.5 1624,278.9 1524,276.5 1428,279.5 1348,277.8 1256,277.7 1220,274.3 1192,268.6 1180,264.3 1148,247.2 1132,239.9 1116,235.4 1104,234.5 1092,235.9 1059.3,248 1016,257.2 968,274.8 952,278.4 936,280.3 916,280.7 768,277.6 476,277.4 392,275.5 364,276.6 340,280.4 316,287.9 296,297.4 247.8,324 196,345.8 -8,345.8Z"/>
<path fill="#ff2800" d="M-8,-8 2056,-8 2056,260.5 1624,261.3 1528,259.9 1432,261.9 1352,260.9 1252,261.2 1224,259 1200,254.5 1180,247.2 1150.9,232 1136,225.5 1120,221.3 1108,220.5 1092,223 1056,236 1012,246.3 972,259.1 956,262.5 940,264.2 920,264.4 868,262 772,260.4 476,260.3 392,258.6 356,260.2 332,264.1 308,271.9 288,282.1 256,302.2 240,311.1 196,329 -8,329.5Z"/>
<path fill="#ff1800" d="M-8,-8 2056,-8 2056,243 1620,243.5 1528,242.6 1436,243.9 1352,243.4 1244,244.1 1220,242 1200,237.8 1180,230.3 1152,216.2 1140,211.1 1124,206.9 1112,206.1 1096,208.9 1064,220.7 1044,226.4 1008,234.1 968,244.1 944,247.1 920,247.1 856,243.9 780,242.8 484,242.9 388,241.3 348,243 320,247.5 300,254.1 280,264.9 248,287.6 236,294.9 216,304 192,312.3 -8,312.3Z"/>
<path fill="#ff0800" d="M-8,-8 2056,-8 2056,225 1524,224.7 1344,225.2 1240,226.6 1216,224.3 1196,219.9 1180,214 1144,196.3 1132,192.7 1116,191.1 1100,193.3 1068,206.8 1048,212.2 972,226.2 944,229 924,229 860,225.6 800,224.8 484,224.9 380,223.5 332,225.4 304,229.9 284,237.2 268,247.2 240,270.2 228,278.5 216,284.5 192,293.5 -8,293.7Z"/>
<path fill="#f70000" d="M-8,-8 2056,-8 2056,206.5 1364,206.3 1236,208.3 1216,206.6 1196,202.6 1180,197.1 1156,184.3 1146,180 1132,176.3 1120,175.4 1108,176.5 1100,178.4 1088,182.8 1068,192.5 1048,198.1 1008,204.1 948,209.8 924,209.7 868,206.8 816,206.1 480,206.2 372,205.1 332,205.5 308,206.8 284,210.6 268,216.5 256,224.8 231.5,248 220,257.1 204,266.1 188,272.2 -8,272.2Z"/>
<path fill="#e70000" d="M-8,-8 2056,-8 2056,187.3 1368,186.9 1236,189.2 1216,187.7 1200,184.7 1184,179.4 1156,166.3 1144,161.8 1132,159.2 1120,158.6 1112,159.3 1100,162.1 1060,178.5 1044,182.8 1012,186.8 960,189.7 932,189.9 880,187.4 832,186.7 472,186.9 320,185.3 288,186.4 264,190.2 250.1,196 236,206.6 209.6,232 200,238.7 188,245.2 184,245.8 -8,245.8Z"/>
<path fill="#d70000" d="M-8,-8 2056,-8 2056,167.4 1368,166.8 1236,169.2 1216,167.7 1200,164.6 1184,159.6 1144,143.6 1136,141.7 1124,140.8 1112,141.7 1104,143.4 1064,158.7 1044,164.6 1024,167.6 1000,168.9 944,169.4 840,166.7 476,166.9 308,164.7 280,165.4 256,168.7 244.7,172 234.9,176 216,187.3 184,211.7 -8,212.1Z"/>
<path fill="#c70000" d="M-8,-8 2056,-8 2056,146.6 1372,145.9 1300,146.4 1236,148.2 1216,147 1200,144.4 1180,138.8 1144,125.5 1136,123.9 1124,123.3 1112,124.4 1100,127 1068,138.8 1052,143.3 1036,146.4 1016,148.1 944,147.8 856,145.8 472,146.1 284,143.9 252,146.3 228,151.3 205.1,160 180,174.2 -8,174.3Z"/>
<path fill="#b70000" d="M-8,-8 2056,-8 2056,124.7 1372,123.9 1292,124.5 1232,126 1212,124.8 1196,122.5 1184,119.7 1148,108.8 1136,106.7 1124,106 1112,106.8 1100,108.9 1052,122.7 1036,125.2 1020,126.4 876,124 396,124.1 272,122.3 240,123.4 216,126.2 196,130.8 176,138.1 -8,138.1Z"/>
<path fill="#a70000" d="M-8,-8 2056,-8 2056,101.2 1340,100.5 1232,102.3 1200,100.2 1148,90 1124,87.8 1100,89.7 1044,101 1016,102.9 860,100.5 368,100.8 216,97 192,98.4 172,102.2 -8,102.2Z"/>
<path fill="#970000" d="M-8,-8 2056,-8 2056,74.8 1988,74.9 1932,73.7 1880,74.4 1532,73.9 1480,74.5 1332,73.7 1224,75.3 1192,74.1 1144,69.1 1120,68 1096,69.2 1044,75 1012,76.2 940,74.5 848,74 352,74.6 264,72.3 212,65.3 192,63.8 168,65.2 -8,65.2Z"/>
<path fill="#870000" d="M-8,-8 2056,-8 2056,41.1 1988,41 1928,39.6 1876,40.4 1528,40 1476,40.6 1324,39.8 1228,41.6 1124,45.2 932,40.3 328,40.6 264,38 208,28.1 184,25.7 164,26.4 -8,26.4Z"/>
<g clip-path="url(#cz)">
<polygon fill="#dc0000" points="156.2,0.0 178.4,0.0 292.8,1190.2 271.3,1176.0"/>
<polygon fill="#ff2800" points="177.6,0.0 194.3,0.0 307.8,1204.4 292.0,1190.2"/>
<polygon fill="#ffb700" points="193.5,0.0 212.0,0.0 324.4,1220.0 307.0,1204.4"/>
<polygon fill="#d7ff28" points="211.2,0.0 227.7,0.0 339.3,1234.0 323.6,1220.0"/>
<polygon fill="#77ff87" points="226.9,0.0 246.5,0.0 356.9,1250.5 338.5,1234.0"/>
<polygon fill="#28ffd7" points="245.7,0.0 264.8,0.0 373.9,1266.6 356.1,1250.5"/>
<polygon fill="#00f7ff" points="264.0,0.0 283.1,0.0 391.0,1282.6 373.1,1266.6"/>
<polygon fill="#00d7ff" points="282.3,0.0 303.3,0.0 409.7,1300.2 390.2,1282.6"/>
<polygon fill="#00c7ff" points="302.5,0.0 323.6,0.0 428.4,1317.8 408.9,1300.2"/>
<polygon fill="#00b7ff" points="322.8,0.0 343.9,0.0 447.1,1335.4 427.6,1317.8"/>
<polygon fill="#0097ff" points="343.1,0.0 363.1,0.0 464.7,1352.0 446.3,1335.4"/>
<polygon fill="#0087ff" points="362.3,0.0 381.9,0.0 481.8,1368.1 463.9,1352.0"/>
<polygon fill="#0077ff" points="381.1,0.0 401.5,0.0 499.7,1384.9 481.0,1368.1"/>
<polygon fill="#0067ff" points="400.7,0.0 422.0,0.0 518.2,1402.4 498.9,1384.9"/>
<polygon fill="#0057ff" points="421.2,0.0 443.3,0.0 537.5,1420.5 517.4,1402.4"/>
<polygon fill="#0047ff" points="442.5,0.0 465.7,0.0 557.5,1439.4 536.7,1420.5"/>
<polygon fill="#0038ff" points="464.9,0.0 489.0,0.0 578.4,1459.0 556.7,1439.4"/>
<polygon fill="#0028ff" points="488.2,0.0 513.3,0.0 600.1,1479.4 577.6,1459.0"/>
<polygon fill="#0018ff" points="512.5,0.0 538.7,0.0 622.6,1500.6 599.3,1479.4"/>
<polygon fill="#0018ff" points="537.9,0.0 565.3,0.0 646.1,1522.7 621.8,1500.6"/>
<polygon fill="#0008ff" points="564.5,0.0 593.0,0.0 670.5,1545.7 645.3,1522.7"/>
<polygon fill="#0000f7" points="592.2,0.0 622.1,0.0 695.9,1569.6 669.7,1545.7"/>
<polygon fill="#0000f7" points="621.3,0.0 652.4,0.0 722.2,1594.4 695.1,1569.6"/>
<polygon fill="#0000e7" points="651.6,0.0 684.1,0.0 749.7,1620.2 721.4,1594.4"/>
<polygon fill="#0000d7" points="683.3,0.0 717.3,0.0 778.2,1647.1 748.9,1620.2"/>
<polygon fill="#0000c7" points="716.5,0.0 752.0,0.0 807.9,1675.0 777.4,1647.1"/>
<polygon fill="#0000c7" points="751.2,0.0 788.2,0.0 838.8,1704.1 807.1,1675.0"/>
<polygon fill="#0000c7" points="787.4,0.0 826.2,0.0 870.9,1734.3 838.0,1704.1"/>
<polygon fill="#0000b7" points="825.4,0.0 865.9,0.0 904.3,1765.7 870.1,1734.3"/>
<polygon fill="#0000b7" points="865.1,0.0 907.5,0.0 939.0,1798.4 903.5,1765.7"/>
<polygon fill="#0000d7" points="906.7,0.0 946.4,0.0 975.1,1832.4 938.2,1798.4"/>
<polygon fill="#a00000" points="160.0,20.0 200.0,20.0 200.0,95.0 176.0,150.0"/>
<polygon fill="#c40000" points="176.0,150.0 200.0,95.0 215.0,95.0 215.0,200.0 190.0,250.0 184.0,230.0"/>
<polygon fill="url(#bw)" fill-opacity="0.23" points="159.4,300.0 260.0,300.0 520.0,1050.0 520.0,1093.4 271.7,1171.6"/>
</g>
<polygon fill="url(#cg)" points="954.0,1790.0 956.0,1701.5 962.7,1659.0 971.0,1627.0 990.0,1595.0 1011.5,1563.5 1040.0,1542.0 1098.0,1510.7 1160.0,1500.0 1221.4,1494.6 1300.0,1485.0 1382.0,1467.9 1465.0,1430.0 1542.9,1382.0 1610.0,1330.0 1676.8,1275.0 1730.0,1232.0 1778.6,1194.6 1893.0,1240.4 953.7,1809.7"/>
</g>
<polygon points="278.0,439.3 1118.0,347.0 1968.7,474.5 936.4,709.0 268.0,468.4" fill="#bebebe" fill-opacity="0.65"/>
<polygon points="208.4,447.0 254.0,442.0 254.0,463.4" fill="#bebebe" fill-opacity="0.6"/>
<g fill="#19f0f0"><rect x="303" y="1724.5" width="4" height="1.3"/><rect x="725" y="1719" width="13" height="1.6"/><rect x="725" y="1722" width="13" height="1.6"/><rect x="725" y="1725" width="13" height="1.6"/><rect x="1163" y="1719" width="5" height="1.3"/><rect x="1163" y="1723.5" width="5" height="1.3"/></g>
<g stroke="#000" stroke-linecap="round" fill="none">
<line x1="164.4" y1="17" x2="925.5" y2="2" stroke-width="3.2"/>
<line x1="925.5" y1="2" x2="2021" y2="16" stroke-width="3.2"/>
<line x1="164.4" y1="17" x2="1118" y2="23.5" stroke-width="3.6"/>
<line x1="1118" y1="23.5" x2="2021" y2="16" stroke-width="3.6"/>
<polygon stroke="none" fill="#000" points="162.6,15.5 166.0,15.5 279.3,1171.5 273.7,1171.5"/>
<line x1="925.5" y1="2" x2="953.7" y2="1806.7" stroke-width="3.3"/>
<line x1="2021" y1="16" x2="1893" y2="1240.4" stroke-width="3.7"/>
<line x1="1118" y1="23.5" x2="1118.6" y2="43" stroke-width="3"/>
<line x1="276.7" y1="1170" x2="953.7" y2="1806.7" stroke-width="4.3"/>
<line x1="953.7" y1="1806.7" x2="1893" y2="1240.4" stroke-width="4.3"/>
<line x1="124" y1="134.2" x2="175.8" y2="134.2" stroke-width="3.4" stroke-linecap="butt"/>
<line x1="151" y1="358.8" x2="197.7" y2="358.8" stroke-width="3.4" stroke-linecap="butt"/>
<line x1="169" y1="573.5" x2="218.6" y2="573.5" stroke-width="3.4" stroke-linecap="butt"/>
<line x1="194" y1="777.2" x2="238.4" y2="777.2" stroke-width="3.4" stroke-linecap="butt"/>
<line x1="215.4" y1="972.3" x2="257.4" y2="972.3" stroke-width="3.4" stroke-linecap="butt"/>
<line x1="234" y1="1159" x2="275.5" y2="1159" stroke-width="3.4" stroke-linecap="butt"/>
<line x1="387" y1="1275.3" x2="354.4" y2="1320.8" stroke-width="3.4" stroke-linecap="butt"/>
<line x1="539.3" y1="1420.7" x2="506" y2="1471.5" stroke-width="3.4" stroke-linecap="butt"/>
<line x1="733.7" y1="1602.8" x2="697.6" y2="1662.4" stroke-width="3.4" stroke-linecap="butt"/>
<line x1="1717.5" y1="1348.7" x2="1747.3" y2="1399.1" stroke-width="3.4" stroke-linecap="butt"/>
<line x1="1504.7" y1="1474.6" x2="1536.7" y2="1533.2" stroke-width="3.4" stroke-linecap="butt"/>
<line x1="1243.8" y1="1632.5" x2="1277.2" y2="1698" stroke-width="3.4" stroke-linecap="butt"/>
</g>
<text class="tk" text-anchor="end" transform="translate(124.0,157.0) scale(1,1.045)">160</text>
<text class="tk" text-anchor="end" transform="translate(151.8,381.5) scale(1,1.045)">155</text>
<text class="tk" text-anchor="end" transform="translate(170.0,597.0) scale(1,1.045)">150</text>
<text class="tk" text-anchor="end" transform="translate(195.0,800.0) scale(1,1.045)">145</text>
<text class="tk" text-anchor="end" transform="translate(216.4,997.0) scale(1,1.045)">140</text>
<text class="tk" text-anchor="end" transform="translate(234.8,1181.5) scale(1,1.045)">135</text>
<text class="tk" text-anchor="middle" transform="translate(323.0,1391.0) scale(1,1.045)">2</text>
<text class="tk" text-anchor="middle" transform="translate(470.0,1547.0) scale(1,1.045)">4</text>
<text class="tk" text-anchor="middle" transform="translate(658.3,1746.4) scale(1,1.045)">6</text>
<text class="tk" text-anchor="middle" transform="translate(1777.7,1474.6) scale(1,1.045)">100</text>
<text class="tk" text-anchor="middle" transform="translate(1565.3,1616.5) scale(1,1.045)">200</text>
<text class="tk" text-anchor="middle" transform="translate(1309.0,1788.1) scale(1,1.045)">300</text>
<text class="ax" transform="translate(1.5,366) rotate(84.3) scale(1,1.03)">received SELcum</text>
<text class="ax" transform="translate(159,1381) rotate(45.5)" style="font-size:75.3px">Swim speed in m/s</text>
<text class="ax" transform="translate(1214.1,1970.8) rotate(-32.3) scale(1,1.045)" style="font-size:75.1px">Position on river width in m</text>
</svg></body></html>
